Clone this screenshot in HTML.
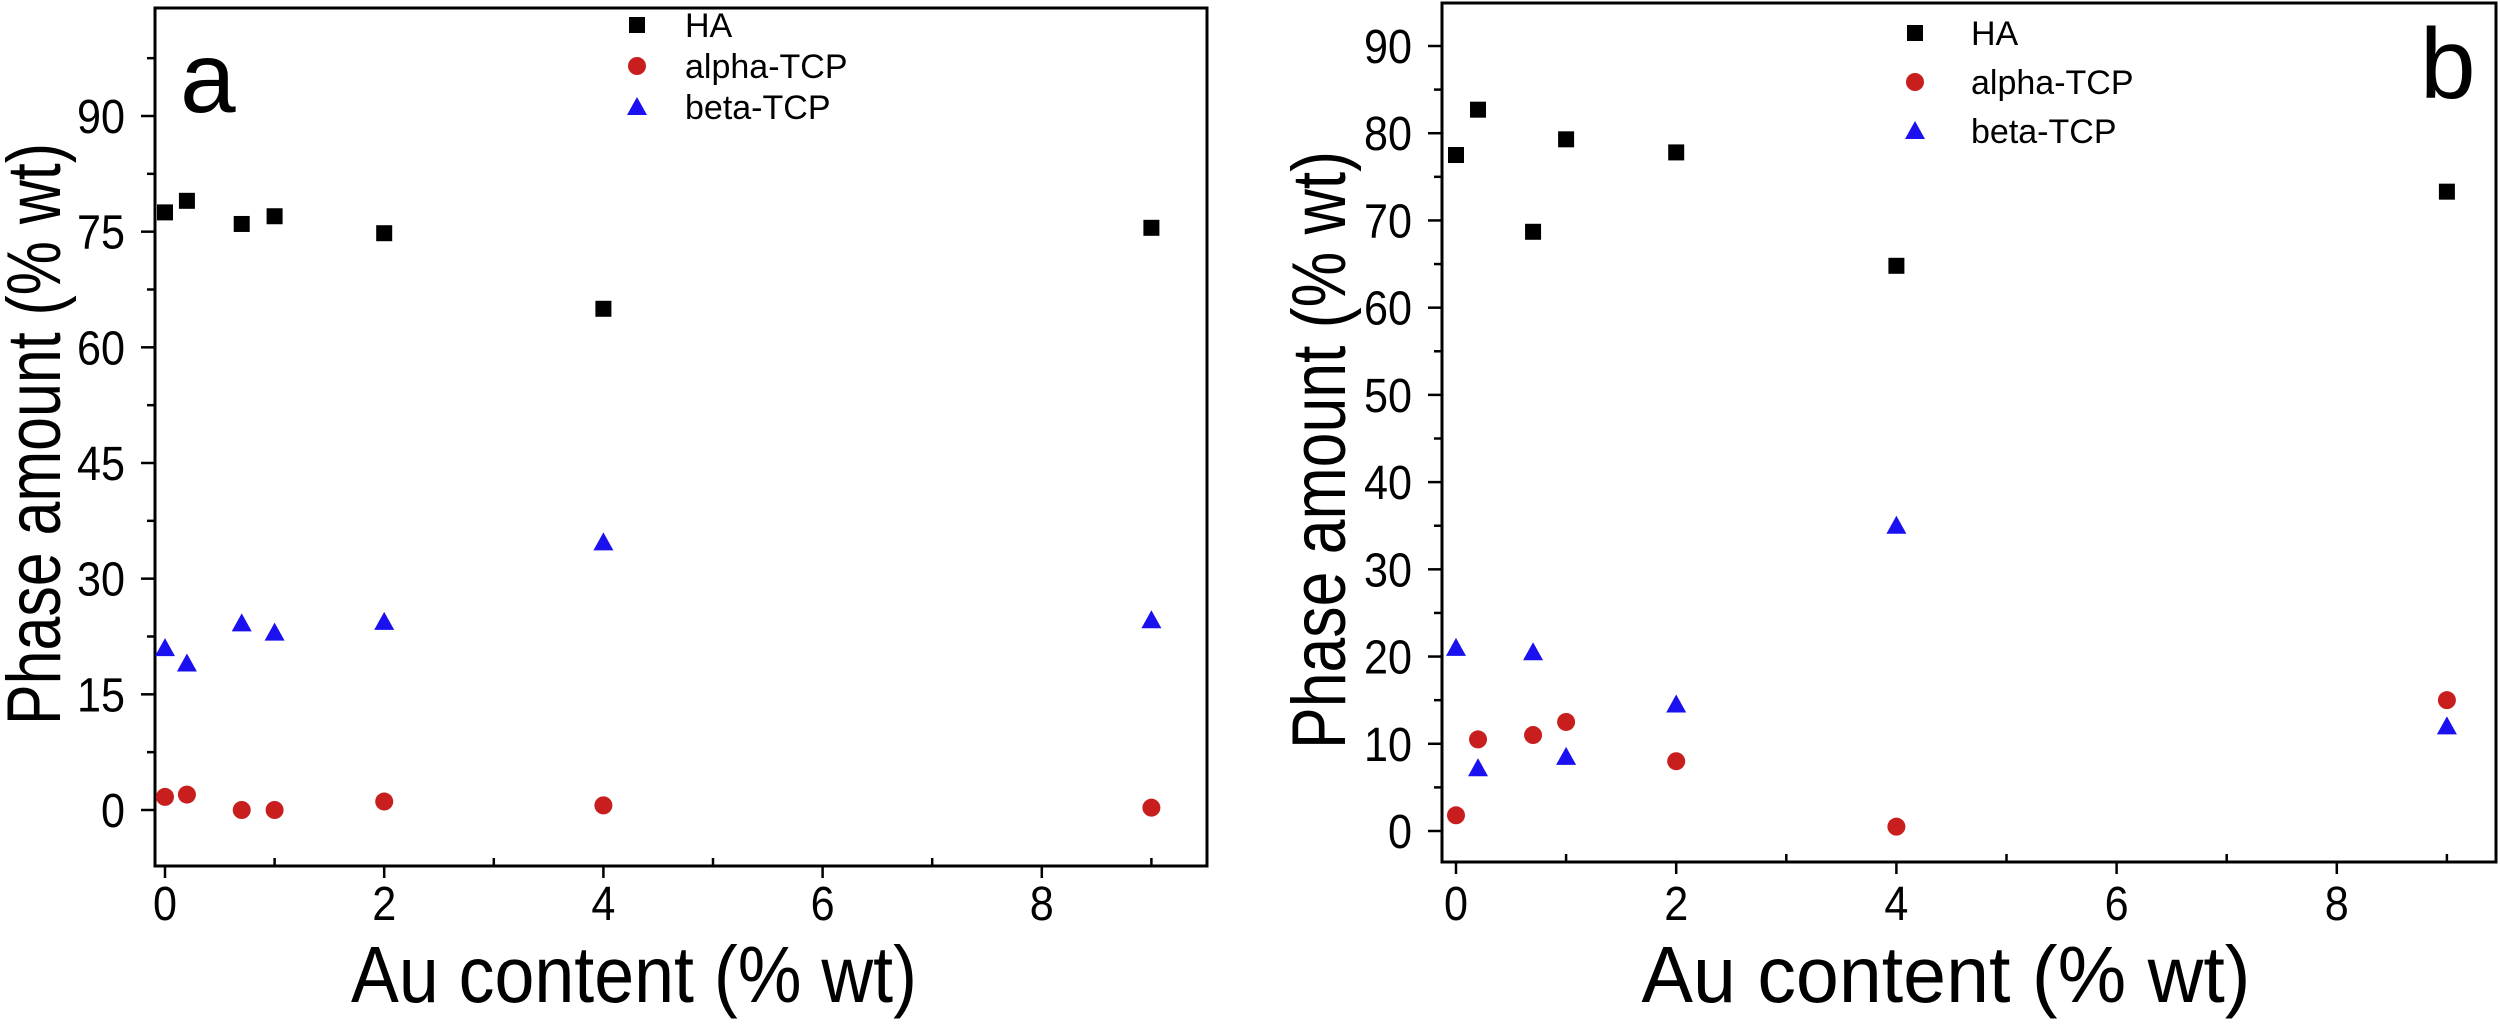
<!DOCTYPE html>
<html><head><meta charset="utf-8">
<style>
html,body{margin:0;padding:0;background:#fff;}
svg{display:block;font-family:"Liberation Sans",sans-serif;}
</style></head>
<body>
<svg id="chart" width="2500" height="1028" viewBox="0 0 2500 1028" xmlns="http://www.w3.org/2000/svg"></svg>
<script>
const xValues = [0, 0.2, 0.7, 1, 2, 4, 9];
const xTicks = [0, 2, 4, 6, 8];
const aHA = [77.5, 79, 76, 77, 74.8, 65, 75.5];
const aAlpha = [1.7, 2, 0, 0, 1.1, 0.6, 0.3];
const aBeta = [21, 19, 24.2, 23, 24.4, 34.7, 24.6];
const aYTicks = [0, 15, 30, 45, 60, 75, 90];
const bHA = [77.5, 82.7, 68.7, 79.3, 77.8, 64.8, 73.3];
const bAlpha = [1.8, 10.5, 11, 12.5, 8, 0.5, 15];
const bBeta = [21, 7.2, 20.5, 8.5, 14.5, 35, 12];
const bYTicks = [0, 10, 20, 30, 40, 50, 60, 70, 80, 90];

const svg = document.getElementById('chart');
const NS = 'http://www.w3.org/2000/svg';
function mk(tag, attrs, parent, text){
  const e = document.createElementNS(NS, tag);
  for (const k in attrs) e.setAttribute(k, attrs[k]);
  if (text !== undefined) e.textContent = text;
  (parent || svg).appendChild(e);
  return e;
}

function panel(cfg){
  const g = mk('g', {});
  
  
  const xs = v => cfg.x0 + v * cfg.xUnit;
  const ys = v => cfg.y0 - v * cfg.yUnit;
  const frame = mk('rect', {x: cfg.left, y: cfg.top, width: cfg.right - cfg.left, height: cfg.bottom - cfg.top, fill: 'none', stroke: '#000', 'stroke-width': 3}, g);
  
  
  const yStep = cfg.yTicks[1] - cfg.yTicks[0];
  for (let v = 0; ys(v) > cfg.top; v += yStep / 2){
    const major = Math.abs((v / yStep) - Math.round(v / yStep)) < 1e-6;
    mk('line', {x1: cfg.left, x2: cfg.left - (major ? 14 : 8), y1: ys(v), y2: ys(v), stroke: '#000', 'stroke-width': 2.5}, g);
  }
  cfg.yTicks.forEach(v => {
    const t = mk('text', {x: cfg.left - 30, y: ys(v) + 17, 'text-anchor': 'end', 'font-size': 48, fill: '#000', textLength: String(v).length * 24, lengthAdjust: 'spacingAndGlyphs'}, g, String(v));
    
    
  });
  for (let v = 0; xs(v) < cfg.right; v += 1){
    const major = v % 2 === 0;
    if (major) mk('line', {x1: xs(v), x2: xs(v), y1: cfg.bottom, y2: cfg.bottom + 12, stroke: '#000', 'stroke-width': 2.5}, g);
    else mk('line', {x1: xs(v), x2: xs(v), y1: cfg.bottom, y2: cfg.bottom - 8, stroke: '#000', 'stroke-width': 2.5}, g);
  }
  xTicks.forEach(v => {
    const t = mk('text', {x: xs(v), y: 920, 'text-anchor': 'middle', 'font-size': 48, fill: '#000', textLength: 24, lengthAdjust: 'spacingAndGlyphs'}, g, String(v));
    
    
  });
  const yt = mk('text', {x: 0, y: 0, transform: `translate(${cfg.yTitleX},${cfg.yTitleY}) rotate(-90)`, 'text-anchor': 'middle', 'font-size': 76, fill: '#000', textLength: cfg.yTitleLen, lengthAdjust: 'spacingAndGlyphs'}, g, 'Phase amount (% wt)');
  
  
  const xt = mk('text', {x: cfg.xTitleX, y: 1002, 'text-anchor': 'middle', 'font-size': 80, fill: '#000', textLength: cfg.xTitleLen, lengthAdjust: 'spacingAndGlyphs'}, g, 'Au content (% wt)');
  
  
  const pl = mk('text', {x: cfg.labelX, y: cfg.labelY, 'font-size': 100, fill: '#000'}, g, cfg.id);
  
  
  function square(x, y, gg){ mk('rect', {x: x - 8, y: y - 8, width: 16, height: 16, fill: '#000'}, gg); }
  function circle(x, y, gg){ mk('circle', {cx: x, cy: y, r: 9, fill: '#c81e1e'}, gg); }
  function tri(x, y, gg){ mk('polygon', {points: `${x},${y-10} ${x+10},${y+8} ${x-10},${y+8}`, fill: '#1a10f0'}, gg); }
  const series = [['ha', cfg.ha, square, 'HA'], ['alpha-tcp', cfg.alpha, circle, 'alpha-TCP'], ['beta-tcp', cfg.beta, tri, 'beta-TCP']];
  series.forEach((s, i) => {
    const sg = mk('g', {}, g);
    
    
    s[1].forEach((v, j) => s[2](xs(xValues[j]), ys(v), sg));
    const lg = mk('g', {}, g);
    
    
    const ly = cfg.legY + i * cfg.legStep;
    s[2](cfg.legMarkX, ly, lg);
    mk('text', {x: cfg.legTextX, y: ly + 12, 'font-size': cfg.legFont, fill: '#000'}, lg, s[3]);
  });
}

panel({id: 'a', left: 155, right: 1207, top: 8, bottom: 866, x0: 165, xUnit: 109.6, y0: 810, yUnit: (810 - 116) / 90,
  yTicks: aYTicks, ha: aHA, alpha: aAlpha, beta: aBeta,
  yTitleX: 60, yTitleY: 434, yTitleLen: 582, xTitleX: 634, xTitleLen: 566, labelX: 180, labelY: 112,
  legMarkX: 637, legTextX: 685, legY: 25, legStep: 41, legFont: 34});
panel({id: 'b', left: 1442, right: 2496, top: 3, bottom: 862, x0: 1456, xUnit: 110.1, y0: 831, yUnit: (831 - 46) / 90,
  yTicks: bYTicks, ha: bHA, alpha: bAlpha, beta: bBeta,
  yTitleX: 1345, yTitleY: 450, yTitleLen: 598, xTitleX: 1946, xTitleLen: 609, labelX: 2420, labelY: 98,
  legMarkX: 1915, legTextX: 1971, legY: 33, legStep: 49, legFont: 34});
</script>
</body></html>
